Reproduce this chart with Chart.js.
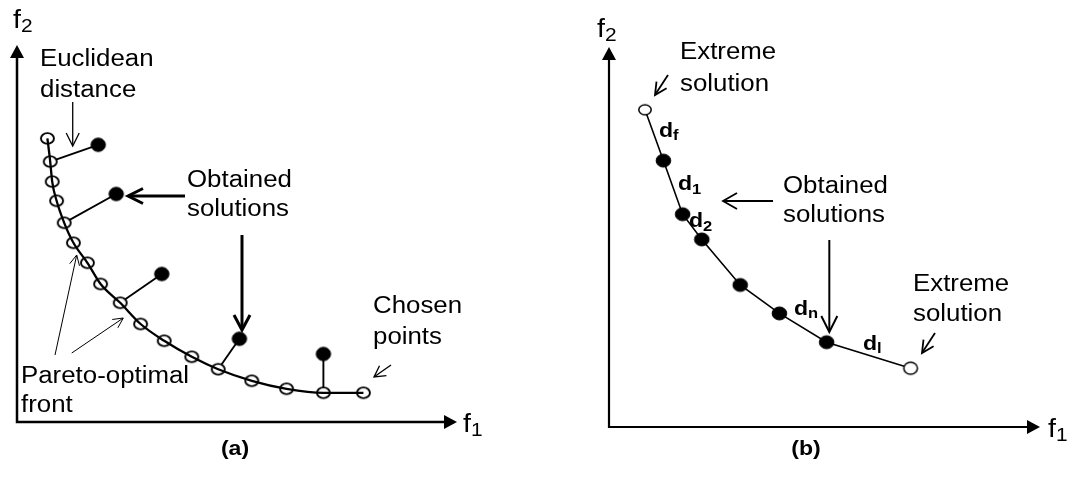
<!DOCTYPE html>
<html><head><meta charset="utf-8">
<script src="https://cdn.jsdelivr.net/npm/chart.js@4.4.1/dist/chart.umd.min.js"></script>
<style>
html,body{margin:0;padding:0;background:#fff;width:1073px;height:480px;overflow:hidden}
#ca{position:absolute;left:0;top:0}
#cb{position:absolute;left:536px;top:0}
</style></head><body>
<canvas id="ca" width="536" height="480"></canvas>
<canvas id="cb" width="537" height="480"></canvas>
<script>
// ---------- Panel (a) data ----------
const chosenF1 = [0.76,0.83,0.88,0.99,1.18,1.41,1.76,2.09,2.58,3.09,3.68,4.37,5.03,5.87,6.74,7.66,8.66];
const chosenF2 = [7.09,6.51,6.01,5.53,4.98,4.48,3.98,3.45,2.98,2.45,2.03,1.63,1.32,1.03,0.83,0.73,0.73];
const obtainedF1 = [2.03,2.48,3.62,5.56,7.66];
const obtainedF2 = [6.93,5.70,3.70,2.08,1.70];
const obtainedLink = [1,4,8,12,15];   // index of the chosen point each solution is linked to
// ---------- Panel (b) data ----------
const frontF1 = [0.90,1.36,1.84,2.32,3.28,4.26,5.44,7.54];
const frontF2 = [7.93,6.66,5.32,4.69,3.55,2.84,2.12,1.47];
const extremeIdx = [0,7];
// ---------- Text ----------
const axisLabelMain = 'f';
const axisSubX = '1', axisSubY = '2';
const textsA = ['Euclidean','distance','Obtained','solutions','Chosen','points','Pareto-optimal','front','(a)'];
const textsB = ['Extreme','solution','Obtained','solutions','Extreme','solution','(b)'];
const distLabels = [['d','f'],['d','1'],['d','2'],['d','n'],['d','l']];

const STRETCH = 1.1;
const FONT = '"Liberation Sans", Arial, Helvetica, sans-serif';

function ellipseMarker(rx, ry, filled, lw){
  const c = document.createElement('canvas');
  const pad = Math.ceil(lw) + 1;
  c.width = Math.round(2*rx + 2*pad); c.height = Math.round(2*ry + 2*pad);
  const g = c.getContext('2d');
  g.beginPath(); g.ellipse(c.width/2, c.height/2, rx, ry, 0, 0, Math.PI*2);
  if (filled) { g.fillStyle = '#000'; g.fill(); }
  else { g.fillStyle = '#fff'; g.fill(); }
  g.lineWidth = lw; g.strokeStyle = '#000'; g.stroke();
  return c;
}

function pts(xs, ys){ return xs.map((x,i)=>({x:x, y:ys[i]})); }

function drawTextItem(ctx, chart, it){
  const px = chart.scales.x.getPixelForValue(it.x), py = chart.scales.y.getPixelForValue(it.y);
  ctx.save();
  ctx.translate(px, py);
  ctx.scale(it.sx || STRETCH, 1);
  const w8 = it.bold ? 'bold ' : '';
  ctx.font = w8 + it.size + 'px ' + FONT;
  ctx.fillStyle = '#000';
  ctx.textBaseline = 'alphabetic';
  ctx.textAlign = it.align || 'left';
  ctx.fillText(it.text, 0, 0);
  if (it.sub) {
    const w = ctx.measureText(it.text).width;
    ctx.font = w8 + it.subSize + 'px ' + FONT;
    ctx.textAlign = 'left';
    ctx.fillText(it.sub, w + (it.subDx || 0), it.subDy || 4);
  }
  ctx.restore();
}

function drawArrow(ctx, chart, a){
  const sx = chart.scales.x, sy = chart.scales.y;
  const x1 = sx.getPixelForValue(a.from[0]), y1 = sy.getPixelForValue(a.from[1]);
  const x2 = sx.getPixelForValue(a.to[0]), y2 = sy.getPixelForValue(a.to[1]);
  const ang = Math.atan2(y2-y1, x2-x1);
  ctx.save();
  ctx.strokeStyle = '#000'; ctx.lineWidth = a.lw; ctx.lineCap = 'butt'; ctx.lineJoin = 'miter';
  ctx.beginPath(); ctx.moveTo(x1,y1); ctx.lineTo(x2 - Math.cos(ang)*a.lw*0.6, y2 - Math.sin(ang)*a.lw*0.6); ctx.stroke();
  const bx = x2 - Math.cos(ang)*a.head, by = y2 - Math.sin(ang)*a.head;
  const nx = -Math.sin(ang)*a.hw, ny = Math.cos(ang)*a.hw;
  ctx.beginPath(); ctx.moveTo(bx+nx, by+ny); ctx.lineTo(x2, y2); ctx.lineTo(bx-nx, by-ny); ctx.stroke();
  ctx.restore();
}

function drawAxes(ctx, chart, ax){
  const sx = chart.scales.x, sy = chart.scales.y;
  const ox = sx.getPixelForValue(0), oy = sy.getPixelForValue(0);
  const xt = sx.getPixelForValue(ax.xEnd), yt = sy.getPixelForValue(ax.yEnd);
  ctx.save();
  ctx.strokeStyle = '#000'; ctx.fillStyle = '#000'; ctx.lineWidth = ax.lw; ctx.lineCap = 'square';
  ctx.beginPath(); ctx.moveTo(ox, yt + ax.head - 1); ctx.lineTo(ox, oy); ctx.lineTo(xt - ax.head + 1, oy); ctx.stroke();
  ctx.beginPath(); ctx.moveTo(xt, oy); ctx.lineTo(xt - ax.head, oy - ax.hw); ctx.lineTo(xt - ax.head, oy + ax.hw); ctx.closePath(); ctx.fill();
  ctx.beginPath(); ctx.moveTo(ox, yt); ctx.lineTo(ox - ax.hw, yt + ax.head); ctx.lineTo(ox + ax.hw, yt + ax.head); ctx.closePath(); ctx.fill();
  ctx.restore();
}

const annotPlugin = {
  id: 'annot',
  beforeDatasetsDraw(chart){
    const cfg = chart.options.plugins.annot;
    drawAxes(chart.ctx, chart, cfg.axes);
  },
  afterDatasetsDraw(chart){
    const cfg = chart.options.plugins.annot;
    const ctx = chart.ctx;
    cfg.arrows.forEach(a => drawArrow(ctx, chart, a));
    cfg.texts.forEach(t => drawTextItem(ctx, chart, t));
  }
};

function baseOptions(xmin, xmax, ymin, ymax, annot){
  return {
    responsive: false, animation: false, events: [],
    layout: { padding: 0, autoPadding: false },
    plugins: { legend: {display:false}, tooltip: {enabled:false}, title:{display:false}, annot: annot },
    scales: {
      x: { type:'linear', display:false, min:xmin, max:xmax },
      y: { type:'linear', display:false, min:ymin, max:ymax }
    }
  };
}

const TS = 23.5;   // annotation font size

// ---------- Chart (a) ----------
const openA = ellipseMarker(6.5, 5.4, false, 1.9);
const fillA = ellipseMarker(7.2, 6.7, true, 1);
const chosenPts = pts(chosenF1, chosenF2);
const obtainedPts = pts(obtainedF1, obtainedF2);
const linkSets = obtainedPts.map((p,i)=>({
  data: [p, chosenPts[obtainedLink[i]]], showLine:true, borderColor:'#000', borderWidth:1.9,
  pointRadius:0, order:4, clip:false
}));
const annotA = {
  axes: { xEnd: 11.0, yEnd: 9.425, lw: 2.5, head: 13, hw: 7 },
  arrows: [
    {from:[1.393,8.0], to:[1.393,6.9], lw:1.3, head:13, hw:6.5},
    {from:[4.2,5.65], to:[2.775,5.65], lw:3, head:15, hw:7.5},
    {from:[5.625,4.675], to:[5.625,2.3], lw:3, head:15, hw:8},
    {from:[9.35,1.425], to:[8.925,1.125], lw:1.3, head:11, hw:6},
    {from:[0.95,1.675], to:[1.493,4.175], lw:1, head:10, hw:5},
    {from:[1.368,1.725], to:[2.658,2.6], lw:1, head:10, hw:5}
  ],
  texts: [
    {text:axisLabelMain, sub:axisSubY, x:-0.1, y:9.85, size:26, subSize:19, subDy:4},
    {text:axisLabelMain, sub:axisSubX, x:11.15, y:-0.25, size:26, subSize:19, subDy:4},
    {text:textsA[0], x:0.575, y:8.9, size:TS},
    {text:textsA[1], x:0.575, y:8.125, size:TS},
    {text:textsA[2], x:4.25, y:5.875, size:TS},
    {text:textsA[3], x:4.25, y:5.15, size:TS},
    {text:textsA[4], x:8.9, y:2.725, size:TS},
    {text:textsA[5], x:8.9, y:1.95, size:TS},
    {text:textsA[6], x:0.1, y:0.975, size:TS},
    {text:textsA[7], x:0.1, y:0.25, size:TS},
    {text:textsA[8], x:5.45, y:-0.825, size:21, bold:true, align:'center'}
  ]
};
new Chart(document.getElementById('ca'), {
  type: 'scatter',
  data: { datasets: [
    { data: obtainedPts, pointStyle: fillA, pointRadius: 6, showLine:false, order:1, clip:false },
    { data: chosenPts, showLine:true, borderColor:'#000', borderWidth:2.3, pointRadius:0,
      cubicInterpolationMode:'monotone', order:2, clip:false },
    { data: chosenPts, pointStyle: openA, pointRadius: 6, showLine:false, order:3, clip:false },
    ...linkSets
  ]},
  options: baseOptions(-17/40, (536-17)/40, -(480-422)/40, 422/40, annotA),
  plugins: [annotPlugin]
});

// ---------- Chart (b) ----------
const openB = ellipseMarker(6.2, 5.0, false, 1.5);
const openB2 = ellipseMarker(6.8, 6.0, false, 1.5);
const fillB = ellipseMarker(7.3, 6.5, true, 1);
const frontPts = pts(frontF1, frontF2);
const annotB = {
  axes: { xEnd: 10.775, yEnd: 9.5, lw: 2.2, head: 13, hw: 7 },
  arrows: [
    {from:[1.475,8.8], to:[1.15,8.3], lw:1.8, head:12, hw:6},
    {from:[4.1,5.65], to:[2.85,5.65], lw:1.8, head:14, hw:8},
    {from:[5.508,4.675], to:[5.508,2.375], lw:2, head:16, hw:8},
    {from:[8.15,2.35], to:[7.825,1.85], lw:1.8, head:12, hw:6}
  ],
  texts: [
    {text:axisLabelMain, sub:axisSubY, x:-0.3, y:9.75, size:26, subSize:19, subDy:4},
    {text:axisLabelMain, sub:axisSubX, x:10.975, y:-0.25, size:26, subSize:19, subDy:4},
    {text:textsB[0], x:1.775, y:9.2, size:TS},
    {text:textsB[1], x:1.775, y:8.4, size:TS},
    {text:textsB[2], x:4.35, y:5.85, size:TS},
    {text:textsB[3], x:4.35, y:5.125, size:TS},
    {text:textsB[4], x:7.6, y:3.4, size:TS},
    {text:textsB[5], x:7.6, y:2.65, size:TS},
    {text:textsB[6], x:4.925, y:-0.7, size:21, bold:true, align:'center'},
    {text:distLabels[0][0], sub:distLabels[0][1], x:1.25, y:7.25, size:21, subSize:15, bold:true, subDy:3},
    {text:distLabels[1][0], sub:distLabels[1][1], x:1.725, y:5.925, size:21, subSize:15, bold:true, subDy:4},
    {text:distLabels[2][0], sub:distLabels[2][1], x:2.0, y:5.0, size:21, subSize:15, bold:true, subDy:4},
    {text:distLabels[3][0], sub:distLabels[3][1], x:4.625, y:2.8, size:21, subSize:15, bold:true, subDy:3},
    {text:distLabels[4][0], sub:distLabels[4][1], x:6.35, y:1.925, size:21, subSize:15, bold:true, subDy:3}
  ]
};
const interiorPts = frontPts.filter((p,i)=>!extremeIdx.includes(i));
new Chart(document.getElementById('cb'), {
  type: 'scatter',
  data: { datasets: [
    { data: [frontPts[extremeIdx[0]]], pointStyle: openB, pointRadius: 6, showLine:false, order:1, clip:false },
    { data: [frontPts[extremeIdx[1]]], pointStyle: openB2, pointRadius: 6, showLine:false, order:1, clip:false },
    { data: interiorPts, pointStyle: fillB, pointRadius: 6, showLine:false, order:2, clip:false },
    { data: frontPts, showLine:true, borderColor:'#000', borderWidth:1.6, pointRadius:0, tension:0, order:3, clip:false }
  ]},
  options: baseOptions((536-609)/40, (1073-609)/40, -(480-427)/40, 427/40, annotB),
  plugins: [annotPlugin]
});
</script>
</body></html>
